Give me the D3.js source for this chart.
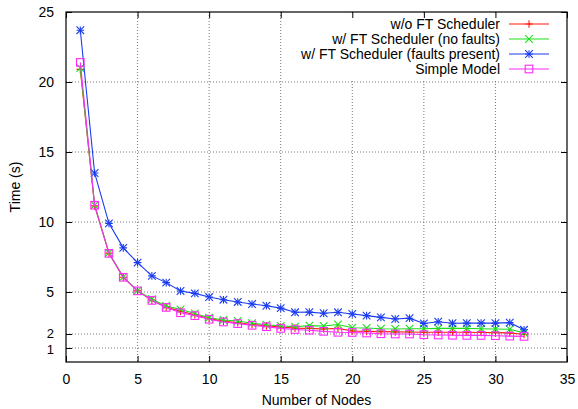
<!DOCTYPE html>
<html>
<head>
<meta charset="utf-8">
<script src="https://cdn.jsdelivr.net/npm/d3@7"></script>
<style>
  html, body { margin: 0; padding: 0; background: #fff; }
  svg { display: block; font-family: "Liberation Sans", Arial, Helvetica, sans-serif; }
</style>
</head>
<body>
<svg id="chart" width="578" height="409"></svg>
<script>
// ---- data ----
const nodes = [1,2,3,4,5,6,7,8,9,10,11,12,13,14,15,16,17,18,19,20,21,22,23,24,25,26,27,28,29,30,31,32];
const woFT = [20.9,11.15,7.78,6.05,5.08,4.42,3.92,3.62,3.38,3.1,2.92,2.8,2.68,2.58,2.5,2.42,2.4,2.36,2.4,2.21,2.19,2.17,2.15,2.14,2.12,2.12,2.12,2.12,2.11,2.1,2.08,1.96];
const wFTnoFaults = [21.0,11.2,7.8,6.07,5.1,4.48,4.0,3.76,3.47,3.16,3.0,2.93,2.77,2.66,2.58,2.52,2.6,2.57,2.68,2.45,2.43,2.38,2.36,2.38,2.38,2.4,2.4,2.4,2.38,2.36,2.34,2.08];
const wFTfaults = [23.7,13.5,9.9,8.15,7.1,6.15,5.67,5.07,4.9,4.64,4.45,4.29,4.14,4.02,3.85,3.55,3.56,3.48,3.55,3.43,3.31,3.19,3.07,3.13,2.75,2.88,2.77,2.78,2.78,2.78,2.81,2.3];
const simpleModel = [21.4,11.2,7.76,6.05,5.08,4.4,3.9,3.52,3.31,3.05,2.86,2.74,2.62,2.52,2.4,2.32,2.27,2.19,2.12,2.11,2.07,2.02,2.0,2.0,1.95,1.93,1.91,1.9,1.9,1.88,1.85,1.83];
const seriesNames = ["w/o FT Scheduler","w/ FT Scheduler (no faults)","w/ FT Scheduler (faults present)","Simple Model"];
const seriesColors = ["#ff1a0a","#1adf1a","#1a3cf0","#ff2aff"];
const xTicks = [0,5,10,15,20,25,30,35];
const yTicks = [1,2,5,10,15,20,25];
const xTitle = "Number of Nodes";
const yTitle = "Time (s)";

const seriesData = [woFT, wFTnoFaults, wFTfaults, simpleModel];
const markers = ["plus","cross","star","square"];

// ---- layout ----
const svg = d3.select("#chart");
const L = 66, R = 567, T = 12, B = 362;
const x = d3.scaleLinear().domain([0,35]).range([L,R]);
const y = d3.scaleLinear().domain([0,25]).range([B,T]);

// grid
const grid = svg.append("g").attr("stroke","#555").attr("stroke-width",0.8).attr("stroke-dasharray","1,2");
xTicks.filter(t => t>0 && t<35).forEach(t => {
  grid.append("line").attr("x1",x(t)).attr("x2",x(t)).attr("y1",T).attr("y2",B);
});
yTicks.filter(t => t<25).forEach(t => {
  grid.append("line").attr("x1",L).attr("x2",R).attr("y1",y(t)).attr("y2",y(t));
});

// legend background (covers grid)
const legendRows = [24,39,54,69];
svg.append("rect").attr("x",300).attr("y",T+1).attr("width",R-301).attr("height",66).attr("fill","#fff");

// axes with ticks (inward, mirrored)
const tickLen = 6;
const xAxisB = d3.axisBottom(x).tickValues(xTicks).tickSizeInner(-tickLen).tickSizeOuter(0).tickPadding(12);
const gxB = svg.append("g").attr("transform",`translate(0,${B})`).call(xAxisB);
const xAxisT = d3.axisTop(x).tickValues(xTicks).tickSizeInner(-tickLen).tickSizeOuter(0).tickFormat("");
const gxT = svg.append("g").attr("transform",`translate(0,${T})`).call(xAxisT);
const yAxisL = d3.axisLeft(y).tickValues(yTicks).tickSizeInner(-tickLen).tickSizeOuter(0).tickPadding(12);
const gyL = svg.append("g").attr("transform",`translate(${L},0)`).call(yAxisL);
const yAxisR = d3.axisRight(y).tickValues(yTicks).tickSizeInner(-tickLen).tickSizeOuter(0).tickFormat("");
const gyR = svg.append("g").attr("transform",`translate(${R},0)`).call(yAxisR);
[gxB,gxT,gyL,gyR].forEach(g => {
  g.select(".domain").remove();
  g.selectAll(".tick line").attr("stroke","#000").attr("stroke-width",1);
  g.selectAll("text").attr("font-family","Liberation Sans, Arial, sans-serif").attr("font-size",14).attr("fill","#000");
});
gyL.selectAll("text").attr("dy","0.35em");
// nudge the close "1" and "2" labels apart slightly and shrink them a touch
gyL.selectAll(".tick").filter(d => d === 1).select("text").attr("font-size",13).attr("dy","0.42em");
gyL.selectAll(".tick").filter(d => d === 2).select("text").attr("font-size",13).attr("dy","0.25em");

// border
svg.append("rect").attr("x",L).attr("y",T).attr("width",R-L).attr("height",B-T)
  .attr("fill","none").attr("stroke","#000").attr("stroke-width",1.2);

// axis titles
svg.append("text").attr("x",(L+R)/2).attr("y",405).attr("text-anchor","middle")
  .attr("font-size",14).text(xTitle);
svg.append("text").attr("transform",`translate(20,${(T+B)/2}) rotate(-90)`).attr("text-anchor","middle")
  .attr("font-size",14).text(yTitle);

// marker drawing
function drawMarker(g, type, cx, cy, color) {
  const s = 3.8;
  if (type === "plus" || type === "star") {
    g.append("path").attr("d",`M${cx-s},${cy}H${cx+s}M${cx},${cy-s}V${cy+s}`).attr("stroke",color).attr("stroke-width",1.1).attr("fill","none");
  }
  if (type === "cross" || type === "star") {
    g.append("path").attr("d",`M${cx-s},${cy-s}L${cx+s},${cy+s}M${cx-s},${cy+s}L${cx+s},${cy-s}`).attr("stroke",color).attr("stroke-width",1.1).attr("fill","none");
  }
  if (type === "square") {
    g.append("rect").attr("x",cx-s).attr("y",cy-s).attr("width",2*s).attr("height",2*s).attr("stroke",color).attr("stroke-width",1.1).attr("fill","none");
  }
}

// series
const line = d3.line().x(d => x(d[0])).y(d => y(d[1]));
seriesData.forEach((vals, i) => {
  const pts = nodes.map((n, j) => [n, vals[j]]);
  const g = svg.append("g");
  g.append("path").datum(pts).attr("d",line).attr("fill","none").attr("stroke",seriesColors[i]).attr("stroke-width",1.1);
  pts.forEach(p => drawMarker(g, markers[i], x(p[0]), y(p[1]), seriesColors[i]));
});

// legend
seriesNames.forEach((name, i) => {
  const yy = legendRows[i];
  svg.append("text").attr("x",500).attr("y",yy).attr("dy","0.35em").attr("text-anchor","end")
    .attr("font-size",14).text(name);
  svg.append("line").attr("x1",509).attr("x2",549).attr("y1",yy).attr("y2",yy)
    .attr("stroke",seriesColors[i]).attr("stroke-width",1.2);
  drawMarker(svg, markers[i], 529, yy, seriesColors[i]);
});
</script>
</body>
</html>
